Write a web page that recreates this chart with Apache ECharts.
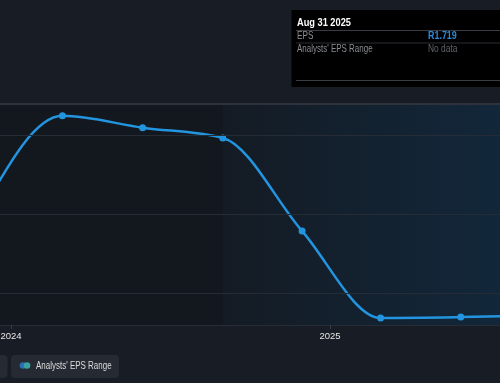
<!DOCTYPE html>
<html>
<head>
<meta charset="utf-8">
<script src="https://cdn.jsdelivr.net/npm/echarts@6.0.0/dist/echarts.min.js"></script>
<style>
html,body{margin:0;padding:0;background:#181c24;}
#c{width:500px;height:383px;}
</style>
</head>
<body>
<div id="c"></div>
<script>
// Data
const dates = ['2023-11-30','2024-02-29','2024-05-31','2024-08-31','2024-11-30','2025-02-28','2025-05-31','2025-08-31'];
const eps = [3.07, 4.25, 4.10, 3.97, 2.79, 1.69, 1.70, 1.719];
const gridValues = [2, 3, 4];
const yearTicks = ['2024-01-01','2025-01-01'];
const pastEnd = '2024-08-31';
const tooltipDate = 'Aug 31 2025';
const tooltipEps = 'R1.719';

const ts = s => new Date(s + 'T00:00:00Z').getTime();
const day = 86400000;
const xMin = ts('2024-01-01') - 12.6 * day;
const xMax = ts('2024-01-01') + 561 * day;
const yMin = 1.6, yMax = 4.4;
const points = dates.map((d, i) => [ts(d), eps[i]]);

// monotone-x cubic path through pixel points
function monotonePath(p) {
  const n = p.length, m = new Array(n).fill(0);
  const sgn = v => v < 0 ? -1 : (v > 0 ? 1 : 0);
  for (let i = 1; i < n - 1; i++) {
    const h0 = p[i][0] - p[i-1][0], h1 = p[i+1][0] - p[i][0];
    const s0 = (p[i][1] - p[i-1][1]) / h0, s1 = (p[i+1][1] - p[i][1]) / h1;
    const q = (s0 * h1 + s1 * h0) / (h0 + h1);
    m[i] = (sgn(s0) + sgn(s1)) * Math.min(Math.abs(s0), Math.abs(s1), 0.5 * Math.abs(q)) || 0;
  }
  m[0] = (3 * (p[1][1] - p[0][1]) / (p[1][0] - p[0][0]) - m[1]) / 2;
  m[n-1] = (3 * (p[n-1][1] - p[n-2][1]) / (p[n-1][0] - p[n-2][0]) - m[n-2]) / 2;
  let d = 'M' + p[0][0] + ' ' + p[0][1];
  for (let i = 0; i < n - 1; i++) {
    const dx = (p[i+1][0] - p[i][0]) / 3;
    d += ' C' + (p[i][0] + dx) + ' ' + (p[i][1] + dx * m[i]) + ' ' +
         (p[i+1][0] - dx) + ' ' + (p[i+1][1] - dx * m[i+1]) + ' ' + p[i+1][0] + ' ' + p[i+1][1];
  }
  return d;
}

const chart = echarts.init(document.getElementById('c'), null, {renderer: 'canvas'});
const font = '"Liberation Sans", Arial, sans-serif';

chart.setOption({
  backgroundColor: '#181c24',
  animation: false,
  grid: {left: 0, right: 0, top: 104, bottom: 58, containLabel: false, outerBoundsMode: 'none'},
  xAxis: {
    type: 'value', min: xMin, max: xMax,
    axisLine: {show: true, lineStyle: {color: '#2e333b', width: 1.5}},
    axisTick: {show: true, customValues: yearTicks.map(ts), length: 4, lineStyle: {color: '#3a3f47'}},
    axisLabel: {customValues: yearTicks.map(ts), color: '#e6e6e6', fontSize: 9.5, fontFamily: font, margin: 6,
      formatter: v => String(new Date(v).getUTCFullYear())},
    splitLine: {show: false}
  },
  yAxis: {
    type: 'value', min: yMin, max: yMax, show: false, splitLine: {show: false}
  },
  series: [{
    type: 'line', data: points, symbol: 'none', lineStyle: {opacity: 0}, z: 1, silent: true,
    markArea: {
      silent: true,
      data: [
        [{xAxis: xMin, yAxis: yMin, itemStyle: {color: '#13171e'}}, {xAxis: ts(pastEnd), yAxis: yMax}],
        [{xAxis: ts(pastEnd), yAxis: yMin, itemStyle: {color: new echarts.graphic.LinearGradient(0, 0, 1, 0, [
          {offset: 0, color: '#141b24'}, {offset: 1, color: '#12273a'}])}}, {xAxis: xMax, yAxis: yMax}]
      ]
    },
    markLine: {
      silent: true, symbol: 'none', label: {show: false},
      data: gridValues.map(v => ({yAxis: v, lineStyle: {color: '#262c35', width: 1, type: 'solid'}}))
        .concat([{yAxis: yMax, lineStyle: {color: '#2e333b', width: 2, type: 'solid'}}])
    }
  }, {
    type: 'custom', data: [points[0]], z: 3, silent: true,
    encode: {x: 0, y: 1},
    renderItem: function (params, api) {
      if (params.dataIndex !== 0) return null;
      const px = points.map(pt => api.coord(pt));
      return {type: 'path', shape: {pathData: monotonePath(px)},
        style: {stroke: '#2394df', lineWidth: 2.5, fill: null, lineJoin: 'round'}};
    }
  }, {
    type: 'scatter', data: points, symbol: 'circle', symbolSize: 7, z: 4,
    itemStyle: {color: '#2394df', opacity: 1}
  }],
  graphic: [
    // tooltip box
    {type: 'rect', shape: {x: 291.5, y: 10, width: 215, height: 77}, style: {fill: '#000000'}, z: 100},
    {type: 'text', x: 297, y: 23, scaleX: 0.88, style: {text: tooltipDate, fill: '#ffffff', font: 'bold 10.5px ' + font, textVerticalAlign: 'middle'}, z: 101},
    {type: 'line', shape: {x1: 296, y1: 30.5, x2: 500, y2: 30.5}, style: {stroke: '#3a3d42', lineWidth: 1}, z: 101},
    {type: 'text', x: 297, y: 36.5, scaleX: 0.78, style: {text: 'EPS', fill: '#8a8d93', font: '10.5px ' + font, textVerticalAlign: 'middle'}, z: 101},
    {type: 'text', x: 428, y: 36.5, scaleX: 0.85, style: {text: tooltipEps, fill: '#2b8ad8', font: 'bold 10.5px ' + font, textVerticalAlign: 'middle'}, z: 101},
    {type: 'line', shape: {x1: 296, y1: 43, x2: 500, y2: 43}, style: {stroke: '#2a2d32', lineWidth: 1}, z: 101},
    {type: 'text', x: 297, y: 49, scaleX: 0.76, style: {text: "Analysts' EPS Range", fill: '#8a8d93', font: '10.5px ' + font, textVerticalAlign: 'middle'}, z: 101},
    {type: 'text', x: 428, y: 49, scaleX: 0.8, style: {text: 'No data', fill: '#5f6268', font: '10.5px ' + font, textVerticalAlign: 'middle'}, z: 101},
    {type: 'line', shape: {x1: 296, y1: 80.5, x2: 500, y2: 80.5}, style: {stroke: '#3a3d42', lineWidth: 1}, z: 101},
    // legend buttons
    {type: 'rect', shape: {x: -100, y: 355, width: 107.5, height: 23, r: 4}, style: {fill: '#262a33'}, z: 100},
    {type: 'rect', shape: {x: 11, y: 355, width: 108, height: 23, r: 4}, style: {fill: '#262a33'}, z: 100},
    {type: 'circle', shape: {cx: 23, cy: 365.5, r: 3.3}, style: {fill: '#2a6fb0'}, z: 101},
    {type: 'circle', shape: {cx: 27, cy: 365.5, r: 3.3}, style: {fill: '#3aa3a0'}, z: 102},
    {type: 'text', x: 36, y: 366, scaleX: 0.76, style: {text: "Analysts' EPS Range", fill: '#dcdcdc', font: '10.5px ' + font, textVerticalAlign: 'middle'}, z: 101}
  ]
});
</script>
</body>
</html>
